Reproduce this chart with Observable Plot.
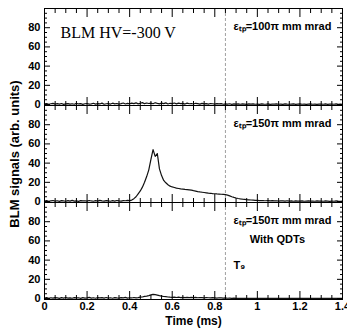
<!DOCTYPE html>
<html>
<head>
<meta charset="utf-8">
<script src="https://cdn.jsdelivr.net/npm/d3@7"></script>
<script src="https://cdn.jsdelivr.net/npm/@observablehq/plot@0.6"></script>
<style>
  html, body { margin: 0; padding: 0; background: #fff; }
  #chart { width: 347px; height: 333px; }
</style>
</head>
<body>
<div id="chart"></div>
<script>
// ---- data ----
const panels = ["hv300_100", "hv300_150", "hv300_150_qdt"];

const time = [
  0.00,0.01,0.02,0.03,0.04,0.05,0.06,0.07,0.08,0.09,
  0.10,0.11,0.12,0.13,0.14,0.15,0.16,0.17,0.18,0.19,
  0.20,0.21,0.22,0.23,0.24,0.25,0.26,0.27,0.28,0.29,
  0.30,0.31,0.32,0.33,0.34,0.35,0.36,0.37,0.38,0.39,
  0.40,0.41,0.42,0.43,0.44,0.45,0.46,0.47,0.48,0.49,
  0.50,0.51,0.52,0.53,0.54,0.55,0.56,0.57,0.58,0.59,
  0.60,0.61,0.62,0.63,0.64,0.65,0.66,0.67,0.68,0.69,
  0.70,0.71,0.72,0.73,0.74,0.75,0.76,0.77,0.78,0.79,
  0.80,0.81,0.82,0.83,0.84,0.85,0.86,0.87,0.88,0.89,
  0.90,0.91,0.92,0.93,0.94,0.95,0.96,0.97,0.98,0.99,
  1.00,1.01,1.02,1.03,1.04,1.05,1.06,1.07,1.08,1.09,
  1.10,1.11,1.12,1.13,1.14,1.15,1.16,1.17,1.18,1.19,
  1.20,1.21,1.22,1.23,1.24,1.25,1.26,1.27,1.28,1.29,
  1.30,1.31,1.32,1.33,1.34,1.35,1.36,1.37,1.38,1.39,1.40
];

// ε_tp = 100π mm mrad
const signal100 = [
  0.6,1.0,0.3,0.8,1.2,0.4,0.9,0.5,1.1,0.2,
  0.7,1.0,0.4,0.8,0.3,1.2,0.6,0.9,0.2,0.8,
  1.1,0.5,0.7,1.3,0.4,0.9,0.6,1.5,0.3,0.8,
  1.0,0.5,1.4,0.7,1.1,0.4,0.9,1.6,0.6,1.2,
  0.8,1.5,1.0,1.8,0.7,1.3,2.0,0.9,1.6,1.1,
  1.4,0.8,1.9,1.2,0.7,1.5,1.0,1.7,0.6,1.3,
  1.0,1.6,0.7,1.4,0.9,1.2,0.5,1.5,0.8,1.1,
  0.6,1.3,0.9,0.4,1.2,0.7,1.0,0.5,1.1,0.8,
  0.4,0.9,0.6,1.0,0.3,0.7,0.5,0.8,0.2,0.6,
  0.4,0.7,0.3,0.6,0.5,0.2,0.6,0.4,0.7,0.3,
  0.5,0.2,0.6,0.4,0.3,0.7,0.2,0.5,0.4,0.6,
  0.3,0.5,0.2,0.6,0.4,0.3,0.5,0.7,0.2,0.4,
  0.6,0.3,0.5,0.2,0.4,0.6,0.3,0.5,0.2,0.4,
  0.5,0.3,0.6,0.2,0.4,0.5,0.3,0.6,0.2,0.4,0.3
];

// ε_tp = 150π mm mrad
const signal150 = [
  0.5,0.9,0.3,0.7,1.1,0.4,0.8,0.2,1.0,0.6,
  0.3,0.9,0.5,1.2,0.4,0.7,0.2,1.0,0.6,0.8,
  0.4,1.1,0.6,0.3,0.9,0.5,1.2,0.7,0.4,1.0,
  0.6,0.3,0.9,0.5,1.1,0.7,0.4,1.0,0.8,1.3,
  1.0,1.5,3.0,5.0,8.0,11.0,15.0,20.0,26.0,33.0,
  44.0,54.0,47.0,50.0,34.0,27.0,22.0,19.5,17.5,16.0,
  15.2,14.6,14.0,13.6,13.2,12.9,12.6,12.4,12.1,11.8,
  11.3,10.9,10.4,10.0,9.7,9.4,9.1,8.8,8.6,8.3,
  8.1,7.9,7.8,7.6,7.4,7.2,6.7,5.9,5.0,4.3,
  3.7,3.2,2.8,2.5,2.3,2.0,1.8,1.6,1.5,1.3,
  1.2,1.0,1.1,0.9,0.8,1.0,0.7,0.9,0.6,0.8,
  0.5,0.7,0.6,0.4,0.8,0.5,0.6,0.3,0.7,0.5,
  0.4,0.6,0.3,0.5,0.7,0.4,0.5,0.3,0.6,0.4,
  0.5,0.3,0.6,0.4,0.2,0.5,0.3,0.6,0.4,0.3,0.5
];

// ε_tp = 150π mm mrad, with QDTs
const signal150qdt = [
  0.5,0.9,0.3,0.8,0.4,1.0,0.6,0.2,0.9,0.5,
  1.1,0.4,0.7,0.3,1.0,0.6,0.8,0.2,0.9,0.5,
  0.7,1.2,0.4,0.8,0.3,1.0,0.6,0.9,0.4,1.1,
  0.5,0.8,0.3,1.0,0.6,0.4,0.9,0.7,1.2,0.5,
  0.8,0.6,1.1,0.7,1.0,1.4,1.6,2.2,2.6,3.1,
  3.8,4.4,4.0,3.6,3.0,2.6,2.1,1.9,1.6,1.4,
  1.3,1.5,1.1,1.4,1.0,1.3,0.9,1.2,1.0,1.3,
  0.9,1.2,0.8,1.1,0.9,0.7,1.0,0.8,0.6,0.9,
  0.7,0.5,0.8,0.6,0.4,0.6,0.3,0.5,0.2,0.4,
  0.2,0.3,0.1,0.3,0.2,0.1,0.3,0.2,0.1,0.2,
  0.3,0.1,0.2,0.3,0.1,0.2,0.2,0.1,0.3,0.2,
  0.1,0.2,0.3,0.1,0.2,0.1,0.3,0.2,0.1,0.2,
  0.2,0.1,0.3,0.2,0.1,0.2,0.1,0.3,0.2,0.1,
  0.2,0.3,0.1,0.2,0.1,0.2,0.3,0.1,0.2,0.1,0.2
];

const series = [signal100, signal150, signal150qdt];

const markerTime = [0.85];                       // dashed vertical marker (T9)
const xTicks = [0, 0.2, 0.4, 0.6, 0.8, 1.0, 1.2, 1.4];
const xMinor = [0.05,0.1,0.15,0.25,0.3,0.35,0.45,0.5,0.55,0.65,0.7,0.75,0.85,0.9,0.95,1.05,1.1,1.15,1.25,1.3,1.35];
const yTicks = [0, 20, 40, 60, 80];
const yMinor = [5,10,15,25,30,35,45,50,55,65,70,75,85,90,95];

const titleText = "BLM HV=-300 V";
const emittanceLabels = ["εₜₚ=100π mm mrad", "εₜₚ=150π mm mrad", "εₜₚ=150π mm mrad"];
const qdtLabel = "With QDTs";
const turnLabel = "T₉";
const yLabel = "BLM signals (arb. units)";
const xLabel = "Time (ms)";

// ---- build table ----
const rows = [];
panels.forEach((p, k) => time.forEach((t, i) => rows.push({panel: p, t, v: series[k][i]})));

const sans = '"Liberation Sans", Arial, Helvetica, sans-serif';

const tickAxes = [];
for (const anchor of ["left", "right"]) {
  tickAxes.push(Plot.axisY({anchor, ticks: yTicks, tickSize: -6, fill: "none", label: null, facetAnchor: null}));
  tickAxes.push(Plot.axisY({anchor, ticks: yMinor, tickSize: -3, fill: "none", label: null, facetAnchor: null}));
}
for (const anchor of ["top", "bottom"]) {
  tickAxes.push(Plot.axisX({anchor, ticks: xTicks, tickSize: -8, fill: "none", label: null, facetAnchor: null}));
  tickAxes.push(Plot.axisX({anchor, ticks: xMinor, tickSize: -4, fill: "none", label: null, facetAnchor: null}));
}

const chart = Plot.plot({
  width: 347,
  height: 333,
  marginTop: 7,
  marginBottom: 34,
  marginLeft: 44,
  marginRight: 5,
  style: {fontFamily: sans, fontSize: "11px", fontWeight: "bold", color: "#000", background: "#fff"},
  x: {domain: [0, 1.4]},
  y: {domain: [-1, 100]},
  fy: {domain: panels, padding: 0, axis: null},
  marks: [
    Plot.ruleX(markerTime, {stroke: "#888", strokeWidth: 0.8, strokeDasharray: "3,2"}),
    Plot.lineY(rows, {x: "t", y: "v", fy: "panel", stroke: "#111", strokeWidth: 1.2}),
    Plot.frame({stroke: "#000", strokeWidth: 1}),
    ...tickAxes,
    Plot.axisY({anchor: "left", ticks: yTicks, tickSize: 0, tickPadding: 4, label: null, facetAnchor: null}),
    Plot.axisX({anchor: "bottom", ticks: xTicks, tickSize: 0, tickPadding: 3, tickFormat: d3.format("~g"), label: null}),
    // annotations
    Plot.text([titleText], {fy: [panels[0]], frameAnchor: "top-left", dx: 16, dy: 18, text: d => d,
      fontFamily: '"Liberation Serif", "Times New Roman", serif', fontWeight: "normal", fontSize: 16}),
    Plot.text(panels, {fy: d => d, x: () => markerTime[0], frameAnchor: "top", dx: 8, dy: 14,
      text: (d, i) => emittanceLabels[i], textAnchor: "start"}),
    Plot.text([qdtLabel], {fy: [panels[2]], x: () => markerTime[0], frameAnchor: "top", dx: 52, dy: 33, text: d => d}),
    Plot.text([turnLabel], {fy: [panels[2]], x: () => markerTime[0], frameAnchor: "top", dx: 8, dy: 59, text: d => d, textAnchor: "start"}),
    Plot.text([yLabel], {fy: [panels[1]], frameAnchor: "left", dx: -30, rotate: -90, textAnchor: "middle", text: d => d, fontSize: 13}),
    Plot.text([xLabel], {fy: [panels[2]], frameAnchor: "bottom", dy: 25, text: d => d, fontSize: 12})
  ]
});
document.getElementById("chart").appendChild(chart);
</script>
</body>
</html>
